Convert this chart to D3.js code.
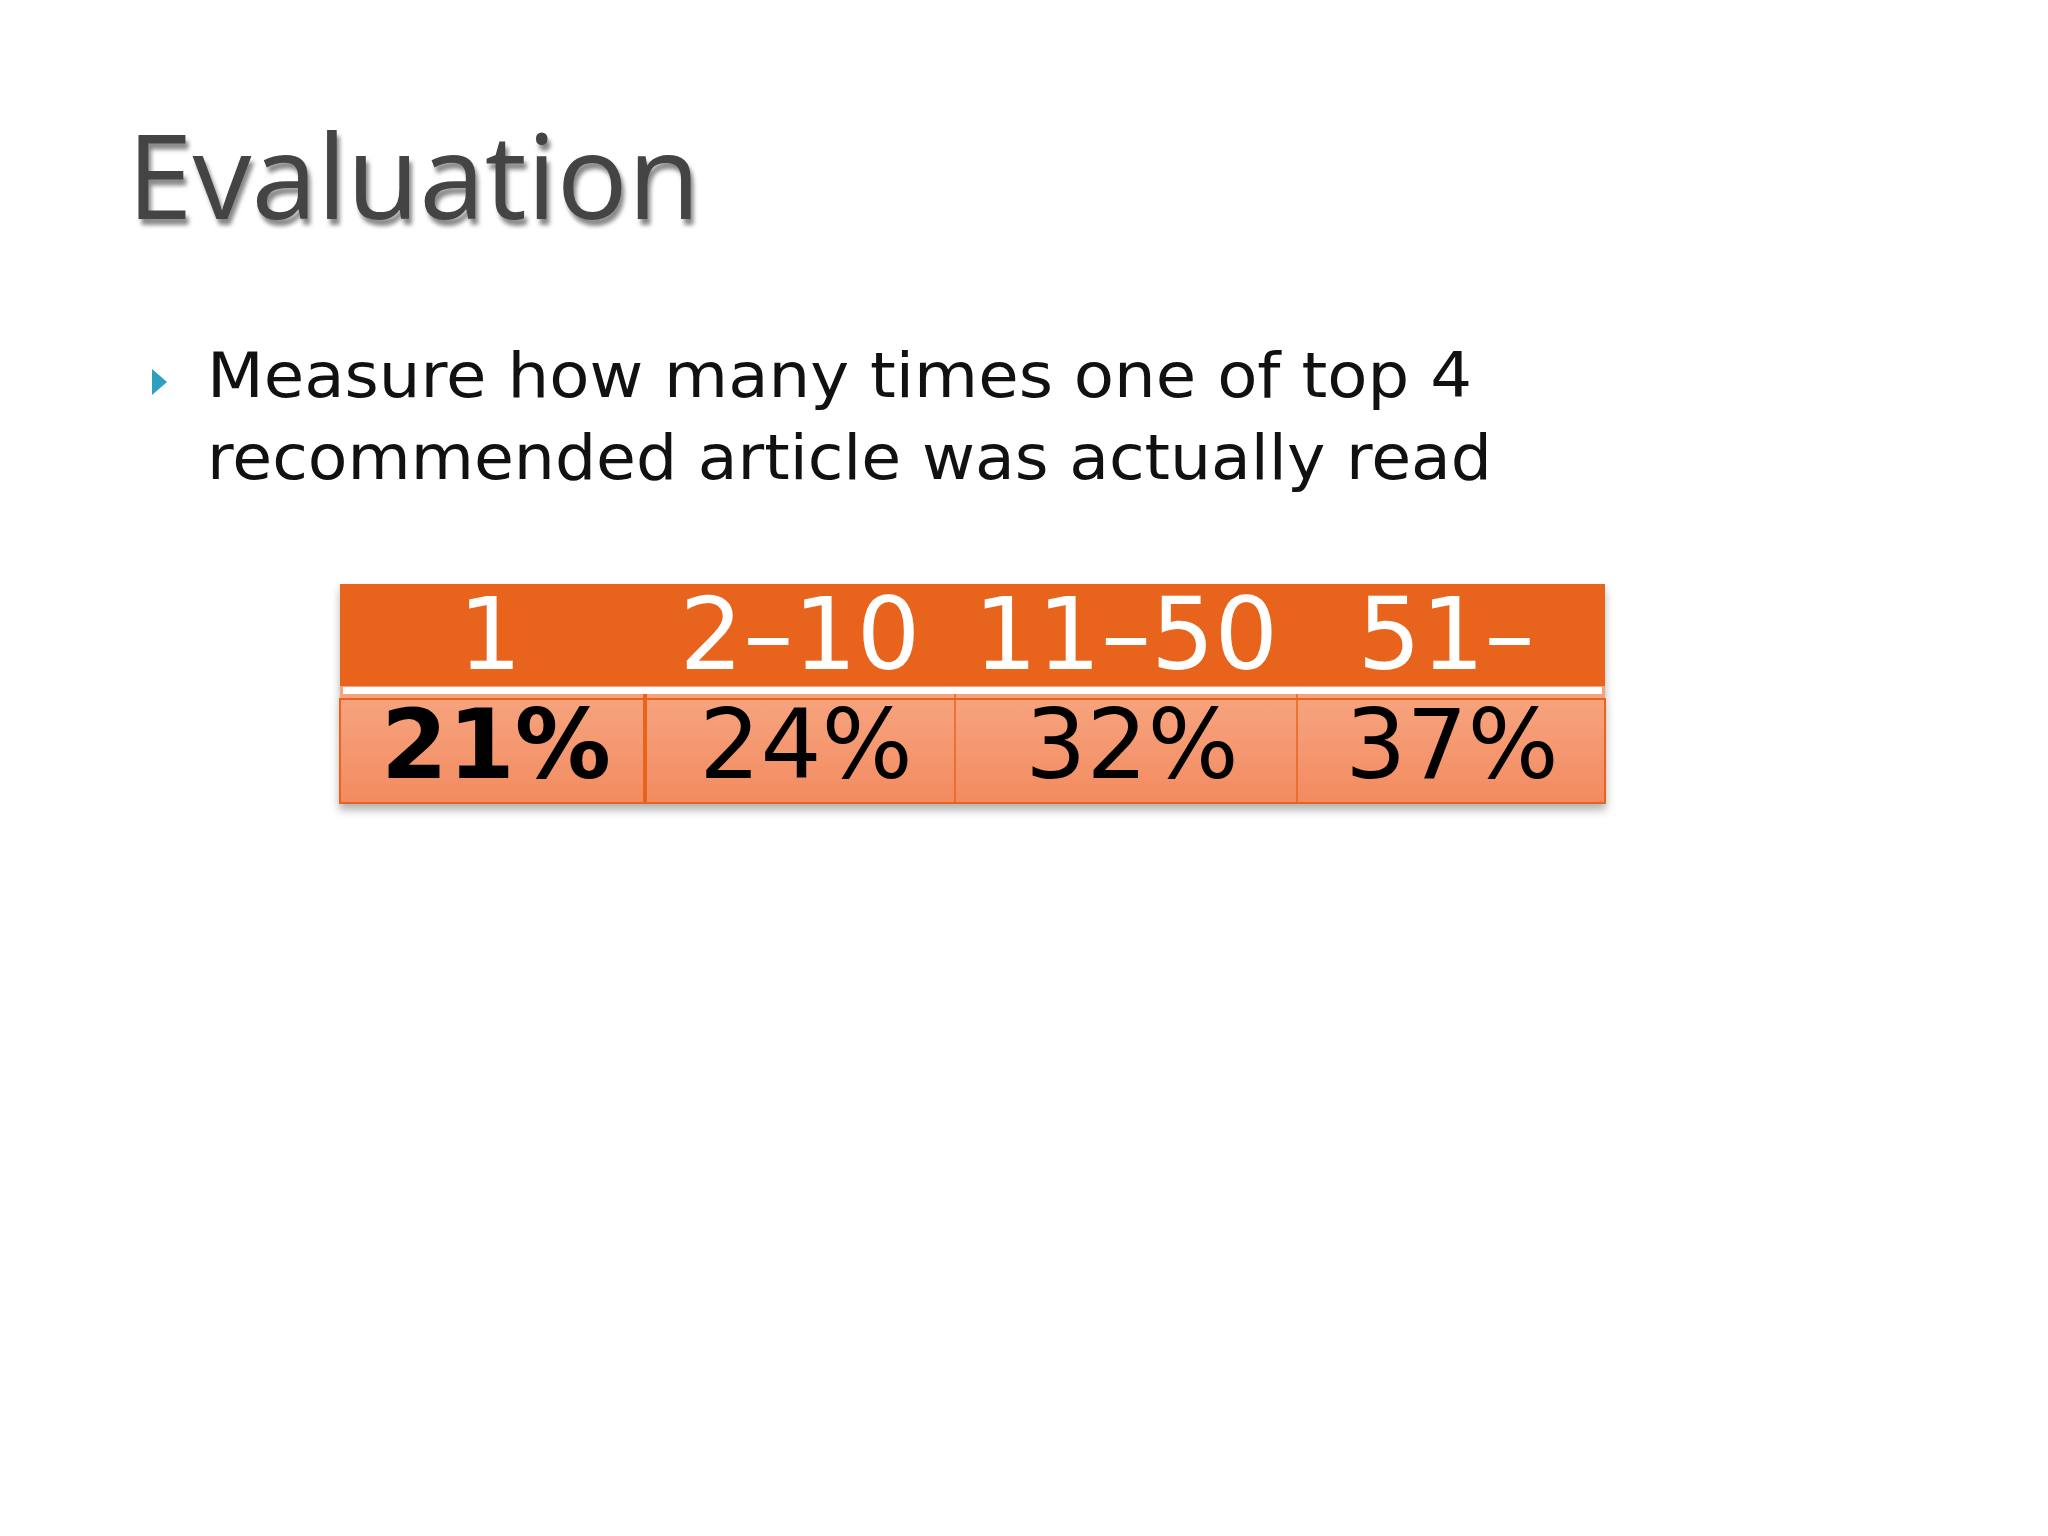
<!DOCTYPE html>
<html><head><meta charset="utf-8">
<script src="https://cdn.jsdelivr.net/npm/d3@7"></script>
<style>body{margin:0;background:#fff}</style>
</head><body>
<svg id="slide"></svg>
<script>
// slide content
const title = 'Evaluation';
const bulletLines = ['Measure how many times one of top 4', 'recommended article was actually read'];
const categories = ['1', '2-10', '11-50', '51-'];
const rates = [21, 24, 32, 37];
const colEdges = [340, 645, 955, 1297, 1605];
const labelCenters = [490, 800, 1126, 1446];

const W = 2048, H = 1536;
const svg = d3.select('#slide').attr('width', W).attr('height', H);
const defs = svg.append('defs');
defs.append('filter').attr('id', 'blur').append('feGaussianBlur').attr('stdDeviation', 2.2);
defs.append('filter').attr('id', 'shadow').attr('x', '-5%').attr('y', '-10%').attr('width', '110%').attr('height', '130%')
    .append('feDropShadow').attr('dx', 0).attr('dy', 6).attr('stdDeviation', 4).attr('flood-color', '#000').attr('flood-opacity', 0.3);
const grad = defs.append('linearGradient').attr('id', 'body').attr('x1', 0).attr('y1', 0).attr('x2', 0).attr('y2', 1);
grad.append('stop').attr('offset', '0%').attr('stop-color', '#f6a37e');
grad.append('stop').attr('offset', '100%').attr('stop-color', '#f38b60');

// title (soft, slightly blurred)
svg.append('text').attr('x', 127).attr('y', 221).attr('font-family', 'Open Sans, sans-serif').attr('font-size', 118)
    .attr('fill', '#888').attr('filter', 'url(#blur)').attr('transform', 'translate(3,4)').text(title);
svg.append('text').attr('x', 127).attr('y', 219).attr('font-family', 'Open Sans, sans-serif').attr('font-size', 118)
    .attr('fill', '#444').text(title);

// bullet
svg.append('path').attr('d', 'M152,369 L167,382 L152,395 Z').attr('fill', '#2e9fc1');
svg.selectAll('.bl').data(bulletLines).join('text').attr('class', 'bl')
    .attr('x', 207).attr('y', (d, i) => 397 + i * 82)
    .attr('font-family', 'DejaVu Sans, sans-serif').attr('font-size', 62).attr('fill', '#111')
    .attr('textLength', (d, i) => i ? 1285 : 1265).attr('lengthAdjust', 'spacingAndGlyphs').text(d => d);

// table
const x = d3.scaleLinear().domain([0, categories.length]).range([colEdges[0], colEdges[colEdges.length - 1]]);
const tTop = 584, headH = 102, sepH = 13, bodyH = 104;
const tb = svg.append('g').attr('filter', 'url(#shadow)');
tb.append('rect').attr('x', x(0)).attr('y', tTop).attr('width', x(4) - x(0)).attr('height', headH).attr('fill', '#e8641c');
tb.append('rect').attr('x', x(0)).attr('y', tTop + headH).attr('width', x(4) - x(0)).attr('height', sepH).attr('fill', '#f5a27e');
tb.append('rect').attr('x', x(0) + 3).attr('y', tTop + headH + 1).attr('width', x(4) - x(0) - 6).attr('height', 7).attr('fill', '#fff');
tb.append('rect').attr('x', x(0)).attr('y', tTop + headH + sepH).attr('width', x(4) - x(0)).attr('height', bodyH)
    .attr('fill', 'url(#body)').attr('stroke', '#e8641c').attr('stroke-width', 2);
svg.selectAll('.div').data(colEdges.slice(1, -1)).join('line').attr('class', 'div')
    .attr('x1', d => d).attr('x2', d => d).attr('y1', tTop + headH + 8).attr('y2', tTop + headH + sepH + bodyH)
    .attr('stroke', '#e8641c').attr('stroke-width', (d, i) => i ? 1.5 : 4);

svg.selectAll('.hd').data(categories).join('text').attr('class', 'hd')
    .attr('x', (d, i) => labelCenters[i]).attr('y', tTop + 85).attr('text-anchor', 'middle')
    .attr('font-family', 'DejaVu Sans, sans-serif').attr('font-size', 100).attr('fill', '#fff')
    .text(d => d.replace('-', '\u2013'));
svg.selectAll('.val').data(rates).join('text').attr('class', 'val')
    .attr('x', (d, i) => labelCenters[i] + 6).attr('y', tTop + headH + sepH + 79).attr('text-anchor', 'middle')
    .attr('font-family', 'DejaVu Sans, sans-serif').attr('font-size', 96).attr('fill', '#000')
    .attr('font-weight', (d, i) => i ? 'normal' : 'bold').text(d => d + '%');
</script>
</body></html>
